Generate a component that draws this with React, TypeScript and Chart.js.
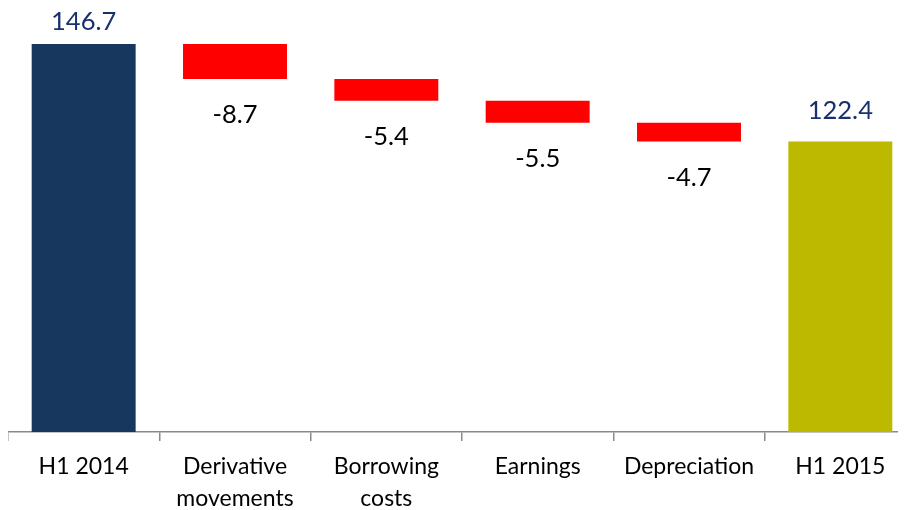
import { useEffect, useRef } from "react";
import { Chart, registerables } from "chart.js";

Chart.register(...registerables);

// ---- data ----
const categories: string[][] = [
  ["H1 2014"],
  ["Derivative", "movements"],
  ["Borrowing", "costs"],
  ["Earnings"],
  ["Depreciation"],
  ["H1 2015"],
];
const values: number[] = [146.7, -8.7, -5.4, -5.5, -4.7, 122.4];
const isTotal: boolean[] = [true, false, false, false, false, true];
const barColors: string[] = ["#17375E", "#FF0000", "#FF0000", "#FF0000", "#FF0000", "#BDB800"];
const axisMin = 50;
const axisMax = 155.7;

const FONT = "Lato";

function buildRanges(): [number, number][] {
  let running = 0;
  return values.map((v, i) => {
    if (isTotal[i]) {
      running = v;
      return [axisMin, v];
    }
    const start = running;
    running = running + v;
    return [start, running];
  });
}

const labelPlugin = {
  id: "waterfallLabels",
  afterDatasetsDraw(chart: any) {
    const ctx = chart.ctx;
    const meta = chart.getDatasetMeta(0);
    const area = chart.chartArea;
    ctx.save();
    ctx.font = `25.5px ${FONT}`;
    ctx.textAlign = "center";
    ctx.textBaseline = "alphabetic";
    meta.data.forEach((el: any, i: number) => {
      const top = Math.min(el.y, el.base);
      const bottom = Math.max(el.y, el.base);
      const text = values[i].toFixed(1);
      if (isTotal[i]) {
        ctx.fillStyle = "#18306E";
        const y = Math.max(top - 23, area.top + 22);
        ctx.fillText(text, el.x, y);
      } else {
        ctx.fillStyle = "#000000";
        ctx.fillText(text, el.x, bottom + 44);
      }
    });
    ctx.restore();
  },
};

export default function App() {
  const ref = useRef<HTMLCanvasElement | null>(null);

  useEffect(() => {
    if (!ref.current) return;
    const chart = new Chart(ref.current, {
      type: "bar",
      data: {
        labels: categories,
        datasets: [
          {
            data: buildRanges() as any,
            backgroundColor: barColors,
            borderWidth: 0,
            borderSkipped: false,
            categoryPercentage: 1,
            barPercentage: 0.687,
          },
        ],
      },
      options: {
        responsive: false,
        animation: false,
        devicePixelRatio: 1,
        layout: { padding: 0 },
        plugins: {
          legend: { display: false },
          tooltip: { enabled: false },
          title: { display: false },
        },
        scales: {
          y: {
            display: false,
            min: axisMin,
            max: axisMax,
          },
          x: {
            offset: true,
            afterFit: (scale: any) => {
              scale.height = 78;
            },
            border: { display: true, color: "#898989", width: 1.5 },
            grid: {
              display: true,
              offset: true,
              drawOnChartArea: false,
              drawTicks: true,
              tickLength: 9,
              color: "#898989",
              lineWidth: 1.5,
            },
            ticks: {
              color: "#000000",
              font: { family: FONT, size: 23, lineHeight: 1.4 },
              padding: 9,
              maxRotation: 0,
              autoSkip: false,
            },
          },
        },
      },
      plugins: [labelPlugin],
    });
    return () => chart.destroy();
  }, []);

  return (
    <div style={{ width: 898, height: 502, overflow: "hidden" }}>
      <canvas ref={ref} width={908} height={502} style={{ display: "block" }} />
    </div>
  );
}
